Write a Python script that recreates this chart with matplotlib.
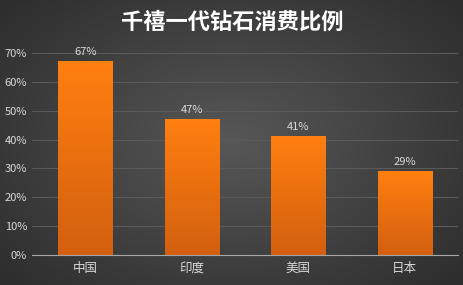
import matplotlib
matplotlib.use("Agg")
import matplotlib.pyplot as plt
import numpy as np
from matplotlib.colors import LinearSegmentedColormap

plt.rcParams["font.family"] = ["Noto Sans CJK SC", "DejaVu Sans"]

title = "千禧一代钻石消费比例"
countries = ["中国", "印度", "美国", "日本"]
shares = [0.67, 0.47, 0.41, 0.29]
yticks = [0, 0.1, 0.2, 0.3, 0.4, 0.5, 0.6, 0.7]

fig = plt.figure(figsize=(4.64, 2.85), dpi=100)

# radial dark background
bg = fig.add_axes([0, 0, 1, 1])
yy, xx = np.mgrid[-1:1:285j, -1:1:464j]
r = np.sqrt(xx ** 2 + (yy * 0.9) ** 2)
bg_cmap = LinearSegmentedColormap.from_list("bg", ["#575757", "#2b2b2b"])
bg.imshow(r, cmap=bg_cmap, vmin=0, vmax=1.4, aspect="auto", extent=[0, 1, 0, 1])
bg.axis("off")

ax = fig.add_axes([0.069, 0.105, 0.918, 0.709])
ax.patch.set_alpha(0)

bar_cmap = LinearSegmentedColormap.from_list("bar", ["#d3600f", "#ff7f10"])
grad = np.linspace(0, 1, 100).reshape(-1, 1)
width = 0.51
for i, v in enumerate(shares):
    ax.imshow(grad, cmap=bar_cmap, aspect="auto", origin="lower",
              extent=[i - width / 2, i + width / 2, 0, v], zorder=2)
    ax.text(i, v + 0.015, f"{v:.0%}", ha="center", va="bottom",
            color="#d9d9d9", fontsize=8)
ax.set_xlim(-0.5, len(countries) - 0.5)
ax.set_ylim(0, 0.7)

ax.set_yticks(yticks)
ax.set_yticklabels([f"{t:.0%}" for t in yticks])
ax.set_xticks(range(len(countries)))
ax.set_xticklabels(countries)
ax.tick_params(length=0, colors="#d9d9d9", labelsize=8)
ax.tick_params(axis="x", labelsize=9, pad=5)
ax.grid(axis="y", color="#5a5a5a", linewidth=0.8, zorder=0)
ax.set_axisbelow(True)
for side in ["top", "right", "left"]:
    ax.spines[side].set_visible(False)
ax.spines["bottom"].set_color("#a6a6a6")

fig.text(0.5, 0.92, title, ha="center", va="center", color="white",
         fontsize=16, fontweight="bold")

fig.savefig("out.png", dpi=100)
